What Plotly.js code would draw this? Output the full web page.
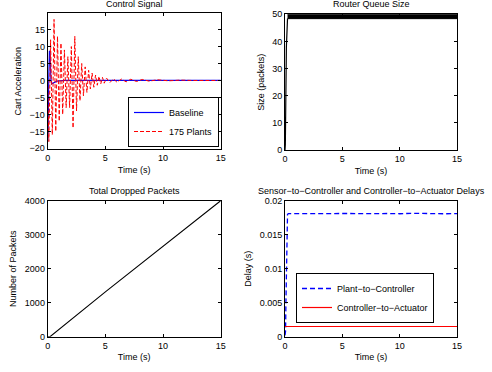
<!DOCTYPE html>
<html>
<head>
<meta charset="utf-8">
<script src="https://cdn.plot.ly/plotly-3.0.1.min.js"></script>
<style>html,body{margin:0;padding:0;background:#fff;}#plot{width:492px;height:372px;}</style>
</head>
<body>
<div id="plot"></div>
<script>
// ---- Control signal (top-left) ----
const baseT = [0, 0.04, 0.08, 0.1, 0.15, 0.2, 0.24, 0.28, 0.35, 0.45, 0.6, 0.8, 1.0, 1.5, 15];
const baseV = [-18, -15, -2, 8.7, 8.7, 8.5, 4, 0.5, -1.0, -0.8, -0.5, -0.2, -0.1, 0, 0];

const plantsT = [0, 0.1, 0.25, 0.4, 0.55, 0.7, 0.85, 1.0, 1.15, 1.3, 1.45, 1.6, 1.75, 1.9, 2.05, 2.2,
  2.35, 2.5, 2.65, 2.8, 2.95, 3.1, 3.25, 3.4, 3.55, 3.7, 3.85, 4.0, 4.15, 4.3, 4.45, 4.6, 4.75, 4.9,
  5.1, 5.4, 5.7, 6.0, 6.4, 6.8, 7.2, 7.7, 8.2, 8.8, 9.5, 10.5, 11.5, 12.5, 15];
const plantsV = [0, -18, 12, -16, 18, -15, 13, -12, 11, -10, 9, -8, 7, -8, 10, -14,
  13, -9, 7, -6, 5, -4.5, 4, -3.5, 3, -2.5, 2.2, -2, 1.6, -1.4, 1.2, -1, 0.9, -0.8,
  0.7, -0.6, 0.5, -0.5, 0.4, -0.4, 0.35, -0.3, 0.3, -0.2, 0.2, -0.1, 0.1, 0, 0];

// ---- Router queue size (top-right) ----
const rampT = [0, 0.03, 0.12, 0.22];
const rampQ = [0, 2, 38, 48.4];
const bandT = [0.22, 15];
const bandLow = [48.4, 48.4];
const bandHigh = [50, 50];

// ---- Total dropped packets (bottom-left) ----
const dropT = [0, 0.2, 5, 10, 15];
const dropN = [0, 0, 1320, 2660, 4000];

// ---- Delays (bottom-right) ----
const p2cT = [0, 0.05, 0.08, 0.12, 0.16, 0.22, 0.3, 1, 2, 3, 4, 5, 6, 7, 8, 9, 10, 11, 12, 13, 14, 15];
const p2cV = [0.0002, 0.0008, 0.005, 0.012, 0.0175, 0.018, 0.0181, 0.01812, 0.01808, 0.01815, 0.0181, 0.01812, 0.01808, 0.01814, 0.0181, 0.01812, 0.01808, 0.01815, 0.0181, 0.01812, 0.01808, 0.0181];
const c2aT = [0, 15];
const c2aV = [0.0015, 0.0015];

const xTicks = [0, 5, 10, 15];

const FONT = 'Liberation Sans, Arial, Helvetica, sans-serif';
const W = 492, H = 372;
function px2x(p){ return p / W; }
function px2y(p){ return 1 - p / H; }

const traces = [
  {x: baseT, y: baseV, type: 'scatter', mode: 'lines', name: 'Baseline',
   line: {color: '#0000ff', width: 1.2}, xaxis: 'x', yaxis: 'y', legend: 'legend'},
  {x: plantsT, y: plantsV, type: 'scatter', mode: 'lines', name: '175 Plants',
   line: {color: '#ff0000', width: 1, dash: '4px,2px'}, xaxis: 'x', yaxis: 'y', legend: 'legend'},

  {x: rampT, y: rampQ, type: 'scatter', mode: 'lines', showlegend: false,
   line: {color: '#000', width: 1.2}, xaxis: 'x2', yaxis: 'y2'},
  {x: bandT, y: bandLow, type: 'scatter', mode: 'lines', showlegend: false,
   line: {color: '#000', width: 1}, xaxis: 'x2', yaxis: 'y2'},
  {x: bandT, y: bandHigh, type: 'scatter', mode: 'lines', showlegend: false, fill: 'tonexty',
   fillcolor: '#000', line: {color: '#000', width: 1}, xaxis: 'x2', yaxis: 'y2'},

  {x: dropT, y: dropN, type: 'scatter', mode: 'lines', showlegend: false,
   line: {color: '#000', width: 1.1}, xaxis: 'x3', yaxis: 'y3'},

  {x: p2cT, y: p2cV, type: 'scatter', mode: 'lines', name: 'Plant\u2212to\u2212Controller',
   line: {color: '#0000ff', width: 1.3, dash: '5px,3px'}, xaxis: 'x4', yaxis: 'y4', legend: 'legend2'},
  {x: c2aT, y: c2aV, type: 'scatter', mode: 'lines', name: 'Controller\u2212to\u2212Actuator',
   line: {color: '#ff0000', width: 1.2}, xaxis: 'x4', yaxis: 'y4', legend: 'legend2'}
];

function xax(dom, anchor){
  return {domain: dom, anchor: anchor, range: [0, 15], tickvals: xTicks,
    ticks: 'inside', ticklen: 3, tickcolor: '#000', showline: true, linecolor: '#000', linewidth: 1,
    mirror: 'ticks', showgrid: false, zeroline: false, tickfont: {size: 9, color: '#000'},
    title: {text: 'Time (s)', font: {size: 9, color: '#000'}, standoff: 4}};
}
function yax(dom, anchor, range, dtick, title){
  return {domain: dom, anchor: anchor, range: range, dtick: dtick, tick0: 0,
    ticks: 'inside', ticklen: 3, tickcolor: '#000', showline: true, linecolor: '#000', linewidth: 1,
    mirror: 'ticks', showgrid: false, zeroline: false, tickfont: {size: 9, color: '#000'},
    title: {text: title, font: {size: 9, color: '#000'}, standoff: 6}};
}

const xL = [px2x(47.7), px2x(220.7)];
const xR = [px2x(285), px2x(457)];
const yTL = [px2y(149), px2y(13.3)];
const yTR = [px2y(150), px2y(14.3)];
const yB = [px2y(336.7), px2y(200.7)];

const layout = {
  width: W, height: H,
  margin: {l: 0, r: 0, t: 0, b: 0},
  paper_bgcolor: '#fff', plot_bgcolor: '#fff',
  font: {family: FONT, size: 9, color: '#000'},
  xaxis: xax(xL, 'y'),
  yaxis: yax(yTL, 'x', [-20.2, 19.8], 5, 'Cart Acceleration'),
  xaxis2: xax(xR, 'y2'),
  yaxis2: yax(yTR, 'x2', [0, 50], 10, 'Size (packets)'),
  xaxis3: xax(xL, 'y3'),
  yaxis3: yax(yB, 'x3', [0, 4000], 1000, 'Number of Packets'),
  xaxis4: xax(xR, 'y4'),
  yaxis4: yax(yB, 'x4', [0, 0.02], 0.005, 'Delay (s)'),
  legend: {x: px2x(219), y: px2y(147), xanchor: 'right', yanchor: 'bottom', traceorder: 'normal',
    bgcolor: '#fff', bordercolor: '#000', borderwidth: 1, font: {size: 9, color: '#000'},
    tracegroupgap: 0, itemwidth: 30},
  legend2: {x: px2x(296), y: px2y(298), xanchor: 'left', yanchor: 'middle', traceorder: 'normal',
    bgcolor: '#fff', bordercolor: '#000', borderwidth: 1, font: {size: 9, color: '#000'},
    tracegroupgap: 0, itemwidth: 30},
  annotations: [
    {text: 'Control Signal', xref: 'paper', yref: 'paper', x: px2x(134.2), y: px2y(4.5),
     xanchor: 'center', yanchor: 'middle', showarrow: false, font: {size: 9, color: '#000'}},
    {text: 'Router Queue Size', xref: 'paper', yref: 'paper', x: px2x(371), y: px2y(4.5),
     xanchor: 'center', yanchor: 'middle', showarrow: false, font: {size: 9, color: '#000'}},
    {text: 'Total Dropped Packets', xref: 'paper', yref: 'paper', x: px2x(134.2), y: px2y(190.5),
     xanchor: 'center', yanchor: 'middle', showarrow: false, font: {size: 9, color: '#000'}},
    {text: 'Sensor\u2212to\u2212Controller and Controller\u2212to\u2212Actuator Delays', xref: 'paper', yref: 'paper',
     x: px2x(371), y: px2y(191), xanchor: 'center', yanchor: 'middle', showarrow: false,
     font: {size: 9, color: '#000'}}
  ]
};

Plotly.newPlot('plot', traces, layout, {staticPlot: true, displayModeBar: false});
</script>
</body>
</html>
